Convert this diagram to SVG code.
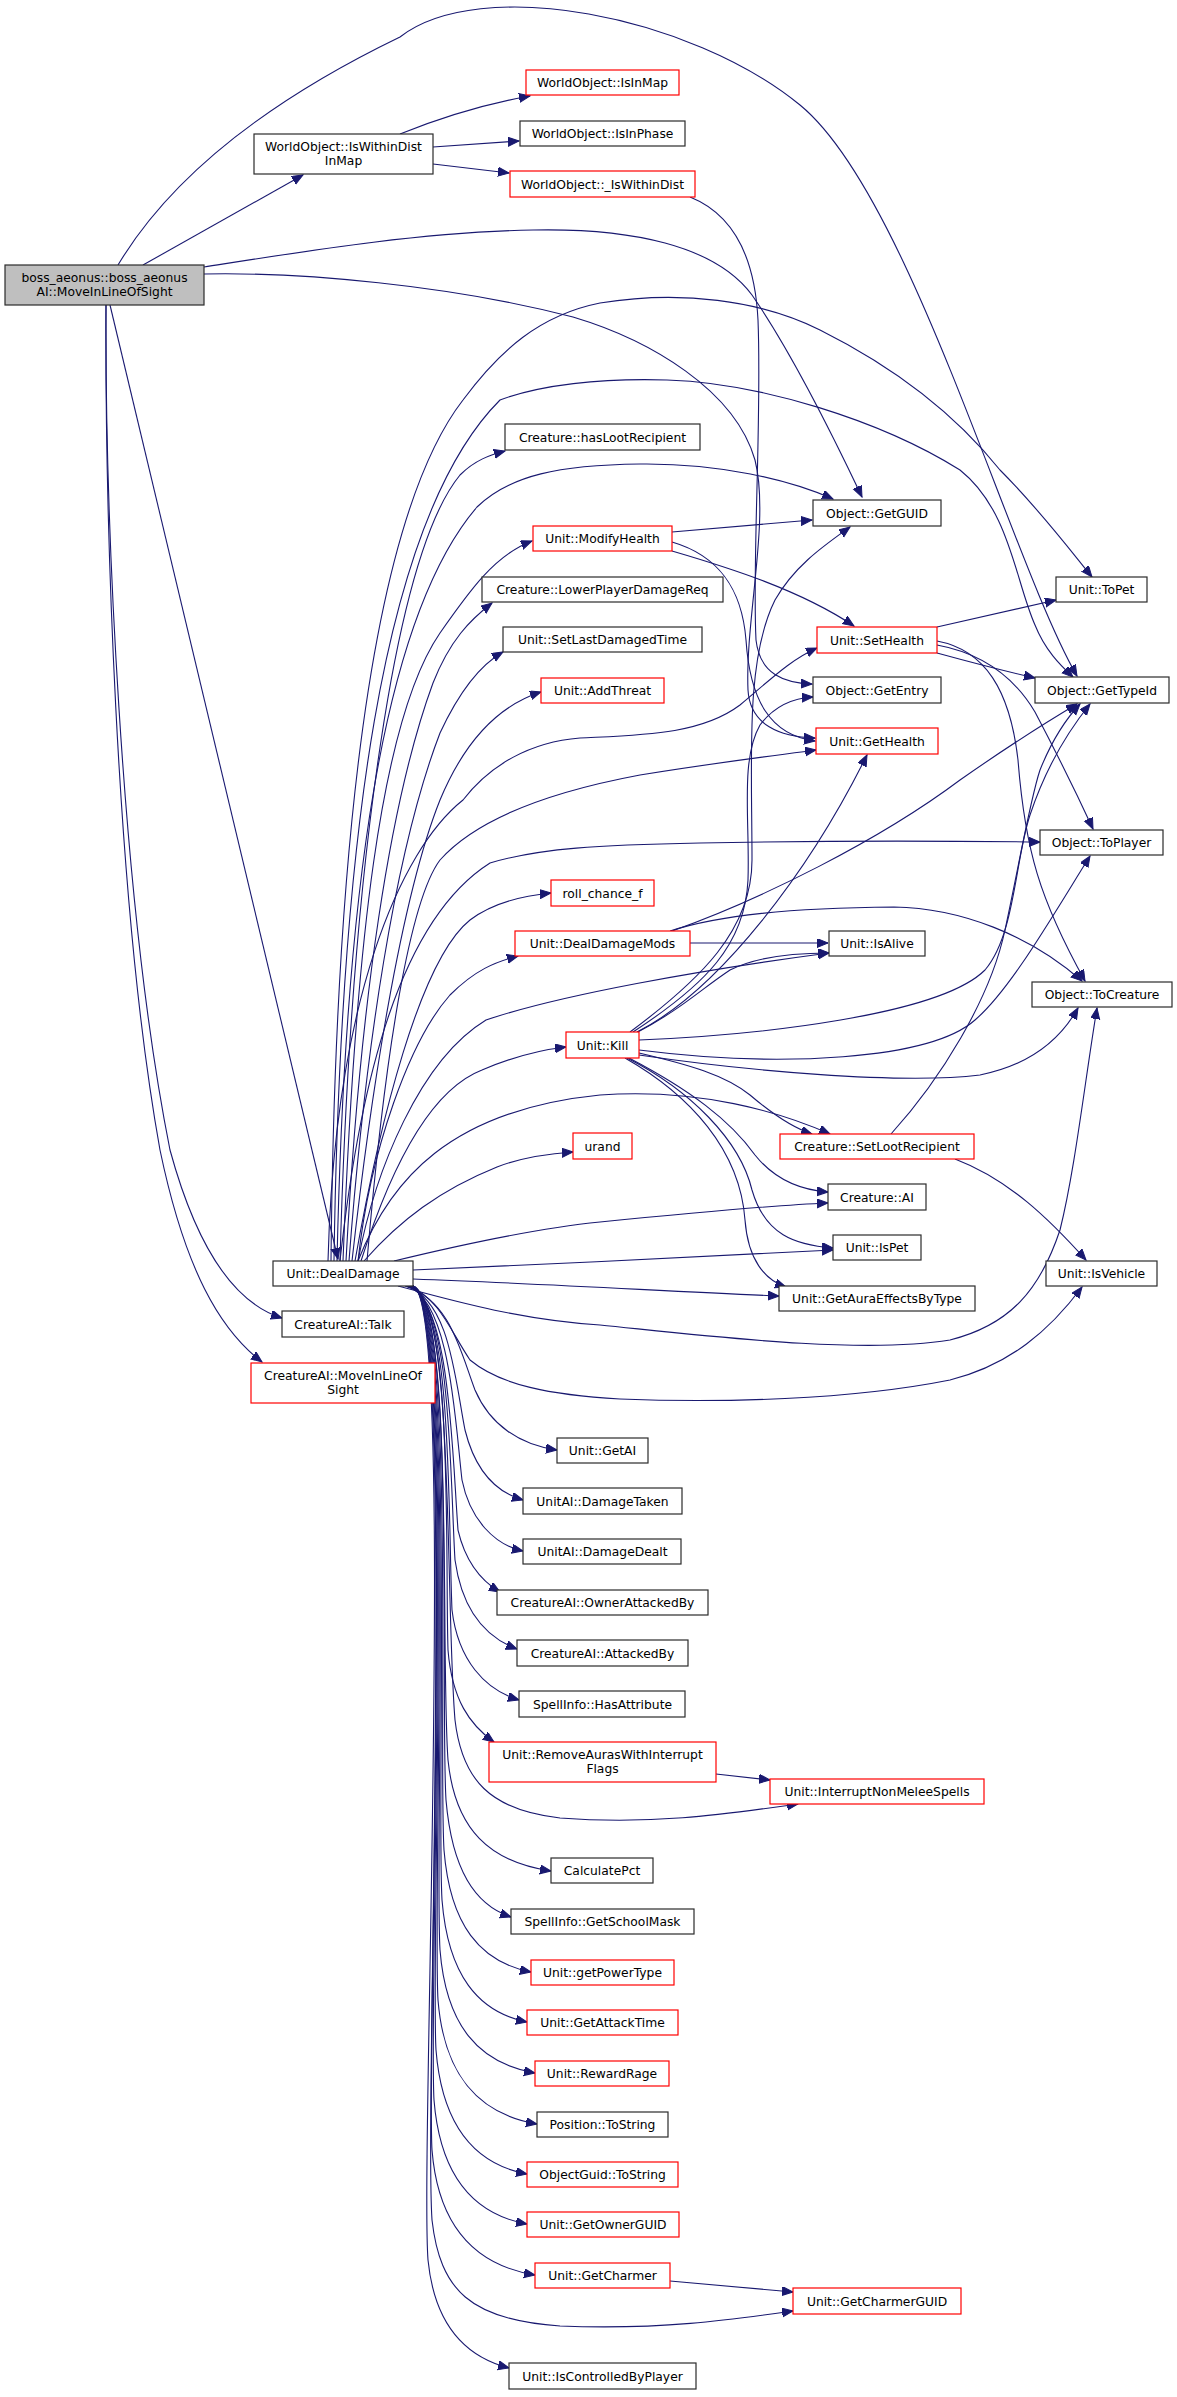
<svg xmlns="http://www.w3.org/2000/svg" width="1177" height="2397" viewBox="0 0 1177 2397">
<style>
rect{fill:#fff;stroke:#2b2b2b;stroke-width:1.2}
.r rect{stroke:#ff0000}
.root rect{fill:#bfbfbf}
text{font-family:"DejaVu Sans",sans-serif;font-size:12.3px;text-anchor:middle;fill:#000}
#edges path{fill:none;stroke:#191970;stroke-width:1.1;marker-end:url(#a)}
</style>
<defs>
<marker id="a" markerWidth="12" markerHeight="10" refX="11" refY="4.5" orient="auto" markerUnits="userSpaceOnUse"><path d="M0,0 L11,4.5 L0,9 z" fill="#191970" stroke="#191970" stroke-width="1"/></marker>
</defs>
<rect x="0" y="0" width="1177" height="2397" style="fill:#fff;stroke:none"/>
<g id="edges">
<path d="M143,265 L303,175"/>
<path d="M118,265 C175,170 280,95 400,37 C480,-25 690,15 800,105 C910,195 1010,560 1077,676"/>
<path d="M204,267 C300,252 420,232 533,230 C630,228 715,245 752,295 C790,350 835,440 862,497"/>
<path d="M204,274 C300,272 450,285 573,317 C650,340 735,390 755,460 C770,520 745,620 748,690 C750,725 780,737 815,738"/>
<path d="M110,305 L338,1259"/>
<path d="M106,305 C105,500 120,900 170,1150 C200,1260 240,1305 282,1318"/>
<path d="M106,305 C105,500 115,900 160,1150 C185,1270 220,1330 262,1362"/>
<path d="M400,134 C440,118 485,104 530,96"/>
<path d="M433,147 L519,141"/>
<path d="M433,164 L509,173"/>
<path d="M690,197 C735,215 755,260 758,320 C762,420 752,560 756,640 C760,675 785,683 812,684"/>
<path d="M340,1261 C350,900 390,560 460,475 C475,460 490,455 505,451"/>
<path d="M343,1261 C355,950 380,720 440,633 C470,590 495,555 532,541"/>
<path d="M346,1261 C360,1000 390,800 433,683 C450,640 470,620 492,603"/>
<path d="M349,1261 C365,1050 395,850 440,733 C460,690 480,665 503,652"/>
<path d="M352,1261 C370,1100 400,900 440,800 C465,740 500,705 541,692"/>
<path d="M355,1261 C380,1120 420,960 470,920 C490,905 520,896 551,893"/>
<path d="M358,1261 C370,1150 410,1040 450,995 C475,970 495,962 518,956"/>
<path d="M361,1261 C390,1170 430,1090 482,1070 C510,1058 540,1050 566,1047"/>
<path d="M364,1261 C400,1220 440,1190 497,1167 C520,1158 545,1154 573,1152"/>
<path d="M337,1261 C345,900 380,620 477,507 C510,475 560,465 640,464 C720,463 790,480 833,499"/>
<path d="M334,1261 C340,850 380,520 500,400 C540,385 600,378 667,380 C760,383 880,420 960,470 C1010,510 1015,580 1035,625 C1045,650 1060,665 1073,677"/>
<path d="M331,1261 C335,850 370,520 463,400 C500,350 540,315 600,303 C680,290 760,300 820,330 C900,370 960,420 1000,470 C1040,510 1070,550 1092,577"/>
<path d="M367,1261 C385,1050 410,900 440,860 C480,815 560,790 640,775 C720,762 780,755 816,750"/>
<path d="M328,1261 C335,1000 400,850 463,800 C490,765 530,742 580,738 C640,735 700,735 740,705 C770,680 790,660 817,648"/>
<path d="M340,1261 C360,1080 400,920 490,863 C540,848 600,845 700,843 C850,840 960,841 1040,842"/>
<path d="M358,1261 C375,1170 420,1060 486,1020 C560,995 700,970 829,953"/>
<path d="M394,1261 C460,1245 540,1228 600,1222 C700,1212 780,1205 828,1203"/>
<path d="M413,1270 C550,1264 700,1257 833,1250"/>
<path d="M413,1279 C550,1284 680,1292 779,1296"/>
<path d="M398,1286 C450,1300 520,1320 600,1325 C700,1335 860,1355 950,1340 C1010,1325 1040,1290 1060,1230 C1075,1170 1085,1080 1097,1008"/>
<path d="M410,1286 C440,1300 450,1330 470,1360 C500,1385 550,1395 620,1399 C720,1403 850,1400 950,1380 C1010,1365 1050,1330 1082,1287"/>
<path d="M358,1261 C390,1180 450,1110 600,1095 C700,1088 780,1112 830,1134"/>
<path d="M405,1286 C450,1300 460,1350 475,1390 C490,1425 520,1445 557,1450"/>
<path d="M406,1286 C450,1300 455,1380 465,1430 C475,1470 495,1492 523,1500"/>
<path d="M407,1286 C450,1300 455,1420 462,1480 C470,1520 495,1545 523,1551"/>
<path d="M408,1286 C450,1300 452,1450 458,1530 C465,1560 480,1580 500,1592"/>
<path d="M409,1286 C452,1300 450,1480 455,1560 C462,1610 485,1637 517,1649"/>
<path d="M410,1286 C453,1300 448,1520 452,1610 C458,1660 485,1690 519,1700"/>
<path d="M411,1286 C454,1300 445,1560 448,1650 C452,1700 470,1725 494,1742"/>
<path d="M412,1286 C455,1300 445,1600 455,1720 C462,1780 490,1810 560,1818 C650,1825 720,1815 798,1804"/>
<path d="M716,1774 L770,1780"/>
<path d="M412,1286 C455,1300 440,1650 448,1760 C455,1830 490,1862 551,1871"/>
<path d="M413,1286 C456,1300 440,1700 446,1800 C452,1870 475,1905 511,1917"/>
<path d="M413,1286 C456,1300 438,1750 444,1850 C450,1925 480,1962 531,1972"/>
<path d="M413,1286 C456,1300 436,1800 442,1900 C448,1975 478,2012 527,2022"/>
<path d="M413,1286 C456,1300 434,1850 440,1950 C446,2025 478,2063 535,2073"/>
<path d="M413,1286 C456,1300 432,1900 438,2000 C444,2075 478,2114 537,2124"/>
<path d="M413,1286 C456,1300 430,1950 436,2050 C442,2125 474,2164 527,2174"/>
<path d="M413,1286 C456,1300 428,2000 434,2100 C440,2175 472,2214 527,2224"/>
<path d="M413,1286 C456,1300 426,2050 432,2150 C438,2225 474,2265 535,2275"/>
<path d="M413,1286 C456,1300 424,2100 432,2220 C440,2290 470,2320 560,2326 C660,2330 730,2320 793,2311"/>
<path d="M670,2281 L793,2292"/>
<path d="M413,1286 C456,1300 420,2150 428,2260 C435,2330 470,2358 509,2368"/>
<path d="M672,532 L812,520"/>
<path d="M672,542 C720,556 742,590 746,640 C750,700 770,735 815,741"/>
<path d="M672,551 C730,568 800,590 854,626"/>
<path d="M937,627 L1056,600"/>
<path d="M937,653 C970,662 1000,670 1035,678"/>
<path d="M937,645 C975,652 1010,670 1035,712 C1055,750 1075,790 1093,829"/>
<path d="M937,641 C985,650 1010,690 1018,760 C1025,850 1040,900 1085,981"/>
<path d="M690,943 L828,943"/>
<path d="M672,931 C760,900 880,840 960,780 C1010,745 1050,720 1077,704"/>
<path d="M670,931 C720,915 790,908 894,907 C960,908 1030,935 1082,981"/>
<path d="M636,1033 C680,1010 700,990 730,970 C760,955 800,953 829,953"/>
<path d="M630,1032 C700,980 752,930 752,860 C752,760 745,660 775,600 C795,565 825,545 850,527"/>
<path d="M633,1032 C705,985 745,945 748,880 C750,820 740,760 760,725 C775,705 795,698 813,697"/>
<path d="M637,1032 C720,990 810,870 867,755"/>
<path d="M639,1040 C760,1035 940,1015 985,970 C1015,935 1015,860 1030,815 C1045,770 1065,735 1090,704"/>
<path d="M639,1050 C780,1068 930,1060 975,1020 C1010,990 1050,920 1090,856"/>
<path d="M639,1055 C740,1070 900,1085 980,1075 C1030,1065 1060,1040 1078,1008"/>
<path d="M639,1053 C690,1065 725,1075 750,1095 C770,1112 790,1127 812,1134"/>
<path d="M629,1058 C690,1090 730,1120 755,1155 C775,1180 800,1190 828,1192"/>
<path d="M627,1058 C690,1090 740,1140 752,1190 C765,1235 795,1245 833,1248"/>
<path d="M625,1058 C690,1095 740,1150 745,1220 C748,1260 765,1280 786,1287"/>
<path d="M891,1134 C940,1080 990,1000 1005,930 C1020,860 1030,800 1040,770 C1052,740 1065,720 1080,704"/>
<path d="M955,1159 C1010,1180 1050,1220 1086,1260"/>
</g>
<g id="boss" class="root"><rect x="5" y="265" width="199" height="40"/><text x="104.5" y="282">boss_aeonus::boss_aeonus</text><text x="104.5" y="296">AI::MoveInLineOfSight</text></g>
<g id="iwdim"><rect x="254" y="134" width="179" height="40"/><text x="343.5" y="151">WorldObject::IsWithinDist</text><text x="343.5" y="165">InMap</text></g>
<g id="isinmap" class="r"><rect x="526" y="70" width="153" height="25"/><text x="602.5" y="87">WorldObject::IsInMap</text></g>
<g id="isinphase"><rect x="520" y="121" width="165" height="25"/><text x="602.5" y="138">WorldObject::IsInPhase</text></g>
<g id="iwd" class="r"><rect x="510" y="171" width="185" height="26"/><text x="602.5" y="188.5">WorldObject::_IsWithinDist</text></g>
<g id="hasloot"><rect x="505" y="424" width="195" height="26"/><text x="602.5" y="441.5">Creature::hasLootRecipient</text></g>
<g id="getguid"><rect x="813" y="500" width="128" height="26"/><text x="877" y="517.5">Object::GetGUID</text></g>
<g id="modhealth" class="r"><rect x="533" y="526" width="139" height="25"/><text x="602.5" y="543">Unit::ModifyHealth</text></g>
<g id="lower"><rect x="482" y="577" width="241" height="25"/><text x="602.5" y="594">Creature::LowerPlayerDamageReq</text></g>
<g id="topet"><rect x="1056" y="577" width="91" height="25"/><text x="1101.5" y="594">Unit::ToPet</text></g>
<g id="setlast"><rect x="503" y="627" width="199" height="25"/><text x="602.5" y="644">Unit::SetLastDamagedTime</text></g>
<g id="sethealth" class="r"><rect x="817" y="627" width="120" height="26"/><text x="877" y="644.5">Unit::SetHealth</text></g>
<g id="getentry"><rect x="813" y="677" width="128" height="26"/><text x="877" y="694.5">Object::GetEntry</text></g>
<g id="gettypeid"><rect x="1035" y="677" width="134" height="26"/><text x="1102" y="694.5">Object::GetTypeId</text></g>
<g id="addthreat" class="r"><rect x="541" y="678" width="123" height="25"/><text x="602.5" y="695">Unit::AddThreat</text></g>
<g id="gethealth" class="r"><rect x="816" y="728" width="122" height="26"/><text x="877" y="745.5">Unit::GetHealth</text></g>
<g id="toplayer"><rect x="1040" y="830" width="123" height="25"/><text x="1101.5" y="847">Object::ToPlayer</text></g>
<g id="roll" class="r"><rect x="551" y="880" width="103" height="26"/><text x="602.5" y="897.5">roll_chance_f</text></g>
<g id="ddmods" class="r"><rect x="515" y="931" width="175" height="25"/><text x="602.5" y="948">Unit::DealDamageMods</text></g>
<g id="isalive"><rect x="829" y="931" width="96" height="25"/><text x="877" y="948">Unit::IsAlive</text></g>
<g id="tocreature"><rect x="1032" y="982" width="140" height="25"/><text x="1102" y="999">Object::ToCreature</text></g>
<g id="kill" class="r"><rect x="566" y="1032" width="73" height="26"/><text x="602.5" y="1049.5">Unit::Kill</text></g>
<g id="setloot" class="r"><rect x="780" y="1134" width="194" height="25"/><text x="877" y="1151">Creature::SetLootRecipient</text></g>
<g id="urand" class="r"><rect x="573" y="1133" width="59" height="26"/><text x="602.5" y="1150.5">urand</text></g>
<g id="creatureai"><rect x="828" y="1184" width="98" height="26"/><text x="877" y="1201.5">Creature::AI</text></g>
<g id="ispet"><rect x="833" y="1235" width="88" height="25"/><text x="877" y="1252">Unit::IsPet</text></g>
<g id="dealdamage"><rect x="273" y="1261" width="140" height="25"/><text x="343" y="1278">Unit::DealDamage</text></g>
<g id="isvehicle"><rect x="1046" y="1261" width="111" height="25"/><text x="1101.5" y="1278">Unit::IsVehicle</text></g>
<g id="getaura"><rect x="779" y="1286" width="196" height="25"/><text x="877" y="1303">Unit::GetAuraEffectsByType</text></g>
<g id="talk"><rect x="282" y="1311" width="122" height="26"/><text x="343" y="1328.5">CreatureAI::Talk</text></g>
<g id="cmlos" class="r"><rect x="251" y="1363" width="184" height="40"/><text x="343" y="1380">CreatureAI::MoveInLineOf</text><text x="343" y="1394">Sight</text></g>
<g id="getai"><rect x="557" y="1438" width="91" height="25"/><text x="602.5" y="1455">Unit::GetAI</text></g>
<g id="dmgtaken"><rect x="523" y="1488" width="159" height="26"/><text x="602.5" y="1505.5">UnitAI::DamageTaken</text></g>
<g id="dmgdealt"><rect x="523" y="1539" width="158" height="25"/><text x="602.5" y="1556">UnitAI::DamageDealt</text></g>
<g id="ownerattacked"><rect x="497" y="1590" width="211" height="25"/><text x="602.5" y="1607">CreatureAI::OwnerAttackedBy</text></g>
<g id="attackedby"><rect x="517" y="1640" width="171" height="26"/><text x="602.5" y="1657.5">CreatureAI::AttackedBy</text></g>
<g id="hasattr"><rect x="519" y="1691" width="166" height="26"/><text x="602.5" y="1708.5">SpellInfo::HasAttribute</text></g>
<g id="removeauras" class="r"><rect x="489" y="1742" width="227" height="40"/><text x="602.5" y="1759">Unit::RemoveAurasWithInterrupt</text><text x="602.5" y="1773">Flags</text></g>
<g id="interrupt" class="r"><rect x="770" y="1779" width="214" height="25"/><text x="877" y="1796">Unit::InterruptNonMeleeSpells</text></g>
<g id="calcpct"><rect x="551" y="1858" width="102" height="25"/><text x="602" y="1875">CalculatePct</text></g>
<g id="schoolmask"><rect x="511" y="1909" width="183" height="25"/><text x="602.5" y="1926">SpellInfo::GetSchoolMask</text></g>
<g id="powertype" class="r"><rect x="531" y="1960" width="143" height="25"/><text x="602.5" y="1977">Unit::getPowerType</text></g>
<g id="attacktime" class="r"><rect x="527" y="2010" width="151" height="25"/><text x="602.5" y="2027">Unit::GetAttackTime</text></g>
<g id="rewardrage" class="r"><rect x="535" y="2061" width="134" height="25"/><text x="602" y="2078">Unit::RewardRage</text></g>
<g id="postostring"><rect x="537" y="2112" width="131" height="25"/><text x="602.5" y="2129">Position::ToString</text></g>
<g id="guidtostring" class="r"><rect x="527" y="2162" width="151" height="25"/><text x="602.5" y="2179">ObjectGuid::ToString</text></g>
<g id="ownerguid" class="r"><rect x="527" y="2212" width="152" height="25"/><text x="603" y="2229">Unit::GetOwnerGUID</text></g>
<g id="getcharmer" class="r"><rect x="535" y="2263" width="135" height="25"/><text x="602.5" y="2280">Unit::GetCharmer</text></g>
<g id="charmerguid" class="r"><rect x="793" y="2288" width="168" height="26"/><text x="877" y="2305.5">Unit::GetCharmerGUID</text></g>
<g id="iscontrolled"><rect x="509" y="2363" width="187" height="26"/><text x="602.5" y="2380.5">Unit::IsControlledByPlayer</text></g>
</svg>
